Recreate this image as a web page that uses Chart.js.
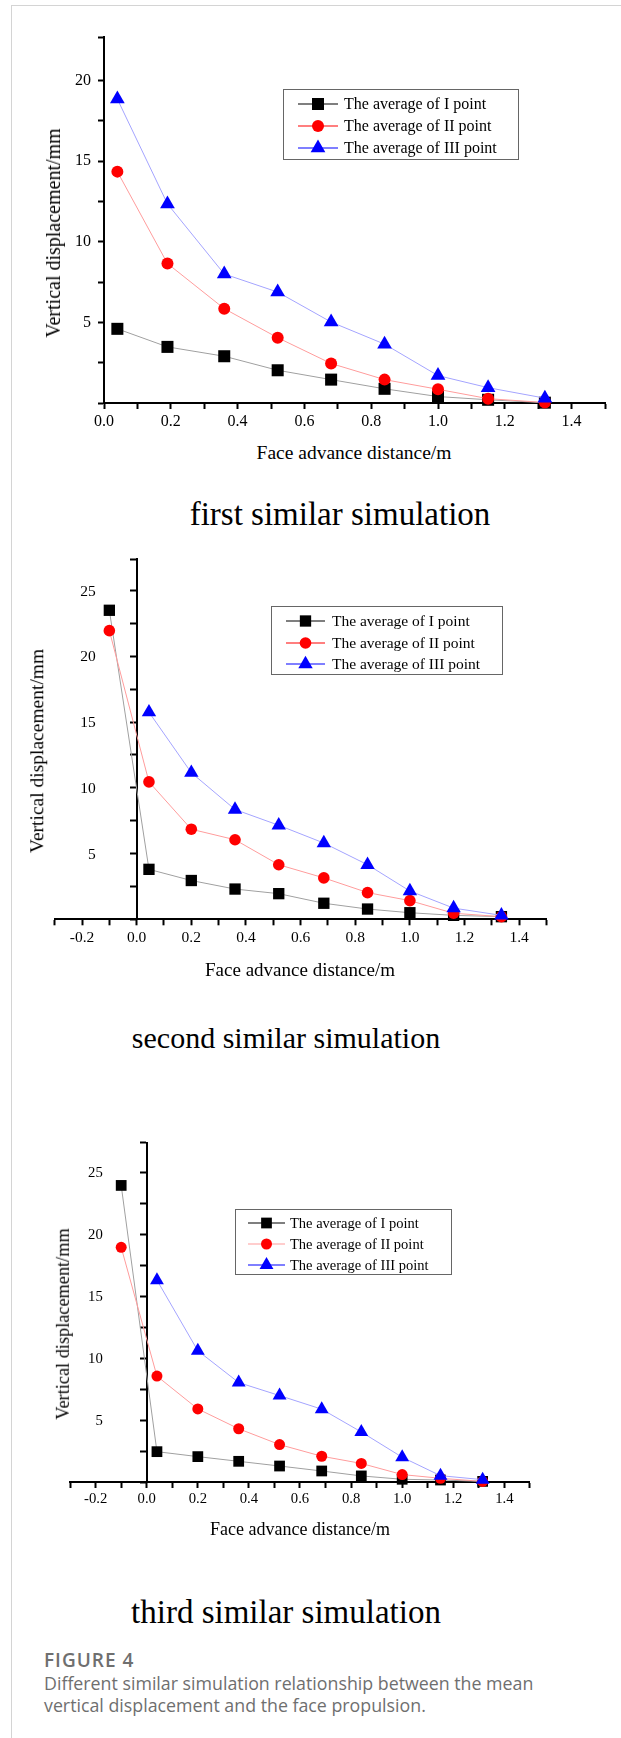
<!DOCTYPE html>
<html>
<head>
<meta charset="utf-8">
<script src="https://cdn.jsdelivr.net/npm/chart.js@4.4.1/dist/chart.umd.min.js"></script>
<style>
  html, body { margin: 0; padding: 0; background: #fff; }
  #page { position: relative; width: 621px; height: 1738px; overflow: hidden; }
  .frame-top { position: absolute; left: 11px; top: 5px; right: 0; height: 1px; background: #d4d4d4; }
  .frame-left { position: absolute; left: 11px; top: 5px; bottom: 0; width: 1px; background: #d4d4d4; }
  canvas { position: absolute; left: 0; }
  .serif { position: absolute; font-family: "Liberation Serif", "Times New Roman", serif; color: #000;
           white-space: nowrap; line-height: 1; transform: translate(-50%, -50%); }
  .ytitle { transform: translate(-50%, -50%) rotate(-90deg); }
  .heading { font-size: 33px; transform: translateX(-50%); }
  .fig { position: absolute; left: 44px; font-family: "Open Sans", "Noto Sans", sans-serif; color: #6f6f6f; white-space: nowrap; }
</style>
</head>
<body>
<div id="page">
  <div class="frame-top"></div>
  <div class="frame-left"></div>

  <canvas id="c1" width="621" height="440" style="top:0px"></canvas>
  <div class="serif ytitle" style="left:53px; top:233px; font-size:20px">Vertical displacement/mm</div>
  <div class="serif" style="left:354px; top:453px; font-size:19.5px">Face advance distance/m</div>
  <div class="serif heading" style="left:340px; top:498px">first similar simulation</div>

  <canvas id="c2" width="621" height="440" style="top:530px"></canvas>
  <div class="serif ytitle" style="left:37px; top:751px; font-size:19.5px">Vertical displacement/mm</div>
  <div class="serif" style="left:300px; top:969px; font-size:19px">Face advance distance/m</div>
  <div class="serif heading" style="left:286px; top:1023px; font-size:30px">second similar simulation</div>

  <canvas id="c3" width="621" height="400" style="top:1120px"></canvas>
  <div class="serif ytitle" style="left:63px; top:1324px; font-size:18.3px">Vertical displacement/mm</div>
  <div class="serif" style="left:300px; top:1529px; font-size:18px">Face advance distance/m</div>
  <div class="serif heading" style="left:286px; top:1596px">third similar simulation</div>

  <div class="fig" style="top:1649px; font-size:19px; font-weight:600; letter-spacing:1px; line-height:22px">FIGURE 4</div>
  <div class="fig" style="top:1672px; font-size:17.8px; line-height:22px">Different similar simulation relationship between the mean<br>vertical displacement and the face propulsion.</div>
</div>

<script>
// series names (same in all three panels)
const SERIES = ["The average of I point", "The average of II point", "The average of III point"];

// first similar simulation
const xs1 = [0.04, 0.19, 0.36, 0.52, 0.68, 0.84, 1.0, 1.15, 1.32];
const I1 = [4.6, 3.48, 2.9, 2.03, 1.45, 0.88, 0.4, 0.2, 0.02];
const II1 = [14.35, 8.65, 5.85, 4.05, 2.45, 1.45, 0.85, 0.27, 0.03];
const III1 = [18.85, 12.35, 8.0, 6.88, 5.02, 3.65, 1.7, 0.95, 0.3];

// second similar simulation
const xs2 = [-0.1, 0.045, 0.2, 0.36, 0.52, 0.685, 0.845, 1.0, 1.16, 1.335];
const I2 = [23.5, 3.8, 2.95, 2.3, 1.95, 1.22, 0.78, 0.5, 0.3, 0.2];
const II2 = [21.95, 10.45, 6.85, 6.05, 4.15, 3.15, 2.03, 1.42, 0.46, 0.2];
const III2 = [null, 15.75, 11.15, 8.35, 7.15, 5.8, 4.15, 2.15, 0.85, 0.3];

// third similar simulation
const xs3 = [-0.1, 0.04, 0.2, 0.36, 0.52, 0.685, 0.84, 1.0, 1.15, 1.315];
const I3 = [23.95, 2.45, 2.05, 1.67, 1.29, 0.89, 0.49, 0.22, 0.16, 0.05];
const II3 = [18.95, 8.55, 5.9, 4.3, 3.02, 2.08, 1.5, 0.6, 0.3, 0.05];
const III3 = [null, 16.3, 10.6, 8.03, 6.98, 5.88, 4.04, 2.0, 0.51, 0.19];

// axis ranges and tick steps
const xRange1 = [0, 1.5];
const xRange23 = [-0.3, 1.5];
const yMax1 = 22.7;
const yMax23 = 27.4;
const X_STEP = 0.1;
const Y_STEP = 2.5;

const SERIF = '"Liberation Serif", "Times New Roman", serif';
const MARKER_COLORS = ["#000000", "#ff0000", "#0000ff"];
const LINE_COLORS = ["#a0a0a0", "#ff9c9c", "#a4a4ff"];
const POINT_STYLES = ["rect", "circle", "triangle"];

Chart.defaults.font.family = SERIF;
Chart.defaults.color = "#000";

function pts(xs, ys) {
  return xs.map((x, i) => ({ x: x, y: ys[i] })).filter(p => p.y !== null);
}
// major labels only, minor ticks stay blank
function xLabel(v) {
  const k = Math.round(v * 10);
  return (k % 2 === 0 && k <= 14) ? (k / 10).toFixed(1) : "";
}
function yLabel(v) {
  const k = Math.round(v * 10);
  return (k > 0 && k % 50 === 0) ? String(k / 10) : "";
}

function marker(ctx, style, x, y, r) {
  ctx.beginPath();
  if (style === "rect") {
    const s = Math.SQRT1_2 * r;
    ctx.rect(x - s, y - s, 2 * s, 2 * s);
  } else if (style === "circle") {
    ctx.arc(x, y, r, 0, Math.PI * 2);
  } else {
    for (let k = 0; k < 3; k++) {
      const a = k * 2 * Math.PI / 3;
      const px = x + r * Math.sin(a), py = y - r * Math.cos(a);
      if (k === 0) ctx.moveTo(px, py); else ctx.lineTo(px, py);
    }
    ctx.closePath();
  }
  ctx.fill();
}

// boxed legend (line + marker + text) like the Origin one
const boxLegend = {
  id: "boxLegend",
  afterDraw(chart, args, o) {
    const ctx = chart.ctx;
    ctx.save();
    ctx.strokeStyle = "#666";
    ctx.lineWidth = 1;
    ctx.strokeRect(Math.round(o.x) + 0.5, Math.round(o.y) + 0.5, Math.round(o.w), Math.round(o.h));
    ctx.font = o.size + "px " + SERIF;
    ctx.textAlign = "left";
    ctx.textBaseline = "middle";
    chart.data.datasets.forEach((ds, i) => {
      const cy = o.rows[i];
      ctx.strokeStyle = o.lines[i];
      ctx.lineWidth = 1.2;
      ctx.beginPath();
      ctx.moveTo(o.lx0, cy);
      ctx.lineTo(o.lx1, cy);
      ctx.stroke();
      ctx.fillStyle = ds.pointBackgroundColor;
      marker(ctx, ds.pointStyle, (o.lx0 + o.lx1) / 2, cy, ds.pointRadius);
      ctx.fillStyle = "#000";
      ctx.fillText(ds.label, o.tx, cy + 1);
    });
    ctx.restore();
  }
};

// y labels for the axis that crosses at x = 0 (they sit well left of it)
const zeroAxisLabels = {
  id: "zeroAxisLabels",
  afterDraw(chart, args, o) {
    if (!o.gap) return;
    const { ctx, scales } = chart;
    const x0 = scales.x.getPixelForValue(0) - o.gap;
    ctx.save();
    ctx.font = o.size + "px " + SERIF;
    ctx.fillStyle = "#000";
    ctx.textAlign = "right";
    ctx.textBaseline = "middle";
    scales.y.ticks.forEach(t => {
      const s = yLabel(t.value);
      if (s) ctx.fillText(s, x0, scales.y.getPixelForValue(t.value) + 1);
    });
    ctx.restore();
  }
};

function buildChart(id, p) {
  const top = parseFloat(document.getElementById(id).style.top);
  const datasets = SERIES.map((name, i) => ({
    label: name,
    data: pts(p.xs, p.ys[i]),
    borderColor: LINE_COLORS[i],
    borderWidth: 1,
    backgroundColor: MARKER_COLORS[i],
    pointBackgroundColor: MARKER_COLORS[i],
    pointBorderWidth: 0,
    pointStyle: POINT_STYLES[i],
    pointRadius: p.radii[i],
    pointHoverRadius: p.radii[i],
    tension: 0,
    order: 3 - i,
    clip: false
  }));
  const lg = p.legend;
  return new Chart(document.getElementById(id), {
    type: "line",
    data: { datasets: datasets },
    plugins: [boxLegend, zeroAxisLabels],
    options: {
      responsive: false,
      animation: false,
      events: [],
      layout: { padding: p.padding },
      scales: {
        x: {
          type: "linear",
          position: "bottom",
          min: p.xRange[0], max: p.xRange[1],
          afterFit: s => { s.height = 30; },
          border: { display: true, color: "#000", width: 2 },
          grid: { drawOnChartArea: false, drawTicks: true, tickLength: 6, tickWidth: 2, color: "#000" },
          ticks: { stepSize: X_STEP, autoSkip: false, maxRotation: 0, padding: p.xPad,
                   font: { size: p.tickSize }, callback: v => xLabel(v) }
        },
        y: {
          type: "linear",
          position: p.yAtZero ? { x: 0 } : "left",
          min: 0, max: p.yMax,
          afterFit: s => { if (!p.yAtZero) s.width = p.yWidth; },
          border: { display: true, color: "#000", width: 2 },
          grid: { drawOnChartArea: false, drawTicks: true, tickLength: 6, tickWidth: 2, color: "#000" },
          ticks: { stepSize: Y_STEP, autoSkip: false, display: !p.yAtZero, padding: 7,
                   font: { size: p.tickSize }, callback: v => yLabel(v) }
        }
      },
      plugins: {
        legend: { display: false },
        tooltip: { enabled: false },
        boxLegend: {
          x: lg.box[0], y: lg.box[1] - top, w: lg.box[2] - lg.box[0], h: lg.box[3] - lg.box[1],
          rows: lg.rows.map(r => r - top), lx0: lg.line[0], lx1: lg.line[1], tx: lg.tx,
          size: lg.size, lines: lg.lines
        },
        zeroAxisLabels: { gap: p.yAtZero ? p.yGap : 0, size: p.tickSize }
      }
    }
  });
}

buildChart("c1", {
  xs: xs1, ys: [I1, II1, III1], xRange: xRange1, yMax: yMax1,
  yAtZero: false, yWidth: 104, tickSize: 16, xPad: 3,
  padding: { left: 0, top: 37, right: 16, bottom: 7 },
  radii: [8.5, 6, 8.5],
  legend: { box: [283, 89, 518, 159], rows: [104, 126, 148], line: [298, 338], tx: 344, size: 16,
            lines: ["#000", "#ff0000", "#0000ff"] }
});

buildChart("c2", {
  xs: xs2, ys: [I2, II2, III2], xRange: xRange23, yMax: yMax23,
  yAtZero: true, yGap: 41, tickSize: 15.5, xPad: 3,
  padding: { left: 54.7, top: 29, right: 74.5, bottom: 20.7 },
  radii: [8, 5.8, 8.3],
  legend: { box: [271, 606, 502, 674], rows: [621, 643, 664], line: [286, 325], tx: 332, size: 15.5,
            lines: ["#000", "#ff0000", "#0000ff"] }
});

buildChart("c3", {
  xs: xs3, ys: [I3, II3, III3], xRange: xRange23, yMax: yMax23,
  yAtZero: true, yGap: 44, tickSize: 14.7, xPad: 2,
  padding: { left: 70.1, top: 22.7, right: 91.1, bottom: 8 },
  radii: [7.6, 5.5, 8],
  legend: { box: [235, 1209, 451, 1274], rows: [1223, 1244, 1265], line: [248, 285], tx: 290, size: 14.5,
            lines: ["#000", "#ff9c9c", "#0000ff"] }
});
</script>
</body>
</html>
